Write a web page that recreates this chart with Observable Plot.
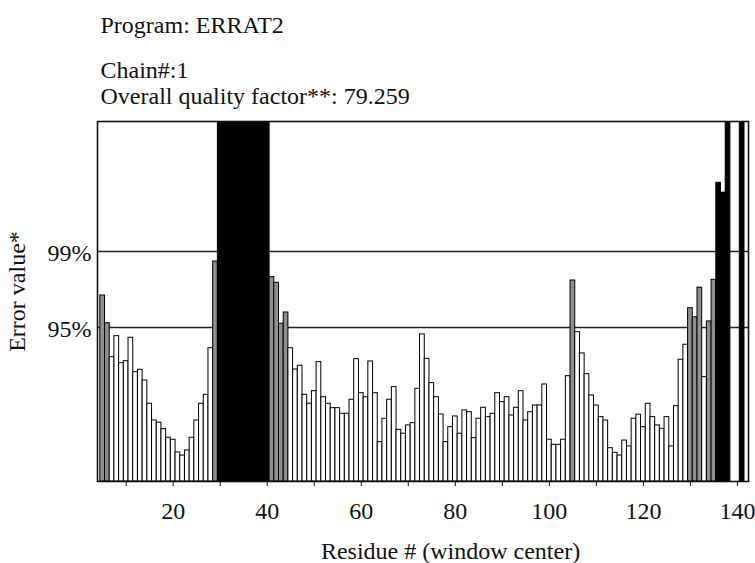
<!DOCTYPE html>
<html>
<head>
<meta charset="utf-8">
<script src="https://cdn.jsdelivr.net/npm/d3@7"></script>
<script src="https://cdn.jsdelivr.net/npm/@observablehq/plot@0.6"></script>
<style>
  html, body { margin: 0; padding: 0; background: #fff; }
</style>
</head>
<body>
<div id="chart"></div>
<script>
// ---- Text ----
const titleText = "Program: ERRAT2";
const chainText = "Chain#:1";
const qualityText = "Overall quality factor**: 79.259";
const xLabelText = "Residue # (window center)";
const yLabelText = "Error value*";

// ---- Data (window-center residue 5 .. 141) ----
const firstResidue = 5;
const errorValues = [
  13.90, 11.83, 9.29, 10.86, 8.84, 8.99, 10.74, 8.17, 8.35, 7.55,   // 5-14
  5.81, 4.56, 4.39, 3.91, 3.27, 3.12, 2.17, 1.94, 2.32, 3.27,       // 15-24
  4.56, 5.81, 6.48, 9.96, 16.44,                                   // 25-29
  30, 30, 30, 30, 30, 30, 30, 30, 30, 30, 30,                      // 30-40
  15.27, 14.85, 11.79, 12.63, 9.96, 8.37, 8.65, 6.48, 5.81, 6.75,  // 41-50
  8.92, 6.30, 5.81, 5.48, 5.48, 5.06, 5.06, 6.11, 9.14, 6.60,      // 51-60
  6.30, 8.97, 6.60, 2.94, 4.69, 6.11, 7.05, 3.86, 3.57, 4.19,      // 61-70
  4.36, 6.93, 10.99, 9.17, 7.35, 6.30, 5.01, 2.94, 4.06, 4.86,     // 71-80
  3.57, 5.31, 5.18, 3.24, 4.69, 5.51, 4.81, 5.06, 6.60, 5.93,      // 81-90
  6.30, 4.93, 5.51, 6.75, 4.56, 5.18, 5.68, 5.68, 7.25, 3.12,      // 91-100
  2.74, 2.74, 3.12, 7.87, 15.02, 11.16, 9.57, 8.02, 6.43, 5.68,    // 101-110
  4.81, 4.56, 2.49, 2.14, 1.94, 3.06, 2.62, 4.69, 4.99, 4.06,      // 111-120
  5.81, 4.81, 4.19, 3.94, 4.81, 2.62, 5.63, 9.10, 10.22, 12.95,    // 121-130
  12.28, 14.48, 7.80, 11.96, 15.07, 22.32, 21.58, 30, 0, 0,        // 131-140
  30                                                               // 141
];

// ---- Confidence lines ----
const thresholdLabels = ["95%", "99%"];
const thresholdValues = [11.51, 17.19];

// ---- Axis ticks ----
const xTickMarks = [10, 20, 30, 40, 50, 60, 70, 80, 90, 100, 110, 120, 130, 140];
const xTickLabels = [20, 40, 60, 80, 100, 120, 140];

// ---- Build tables ----
const bars = errorValues
  .map((v, i) => ({residue: firstResidue + i, value: v}))
  .filter(d => d.value > 0);
const thresholds = thresholdLabels.map((label, i) => ({label, value: thresholdValues[i]}));
const barFill = v => v > thresholdValues[1] ? "#000000" : v > thresholdValues[0] ? "#8f8f8f" : "#ffffff";

const ink = "#111";

const chart = Plot.plot({
  width: 755,
  height: 563,
  marginTop: 121,
  marginBottom: 82,
  marginLeft: 97,
  marginRight: 7,
  style: {
    fontFamily: "'Liberation Serif', 'Times New Roman', serif",
    fontSize: "24px",
    color: ink,
    background: "#fff"
  },
  x: {domain: [3.9, 142.35], axis: null},
  y: {domain: [0, 26.9], axis: null},
  color: {type: "identity"},
  marks: [
    Plot.ruleY(thresholds, {y: "value", stroke: "#222", strokeWidth: 1.6}),
    Plot.rectY(bars, {
      x1: d => d.residue - 0.5,
      x2: d => d.residue + 0.5,
      y1: 0,
      y2: "value",
      fill: d => barFill(d.value),
      stroke: "#000",
      strokeWidth: 1,
      clip: true
    }),
    Plot.frame({stroke: ink, strokeWidth: 1.6}),
    Plot.axisX({ticks: xTickMarks, tickFormat: () => "", tickSize: 5, stroke: ink}),
    Plot.axisX({ticks: xTickLabels, tickSize: 0, tickPadding: 20, fill: ink}),
    Plot.text(thresholds, {
      y: "value", text: "label", frameAnchor: "left",
      textAnchor: "end", dx: -6, dy: 2, fill: ink
    }),
    Plot.text([yLabelText], {
      text: d => d, frameAnchor: "left", textAnchor: "middle", rotate: -90,
      dx: -80, dy: -10, fill: ink
    }),
    Plot.text([xLabelText], {
      text: d => d, frameAnchor: "bottom", lineAnchor: "bottom",
      dx: 27.5, dy: 77, fill: ink
    }),
    Plot.text([titleText], {
      text: d => d, frameAnchor: "top-left", textAnchor: "start", lineAnchor: "bottom",
      dx: 3, dy: -89, fill: ink
    }),
    Plot.text([chainText], {
      text: d => d, frameAnchor: "top-left", textAnchor: "start", lineAnchor: "bottom",
      dx: 3, dy: -44, fill: ink
    }),
    Plot.text([qualityText], {
      text: d => d, frameAnchor: "top-left", textAnchor: "start", lineAnchor: "bottom",
      dx: 3, dy: -18, fill: ink
    })
  ]
});

document.getElementById("chart").appendChild(chart);
</script>
</body>
</html>
